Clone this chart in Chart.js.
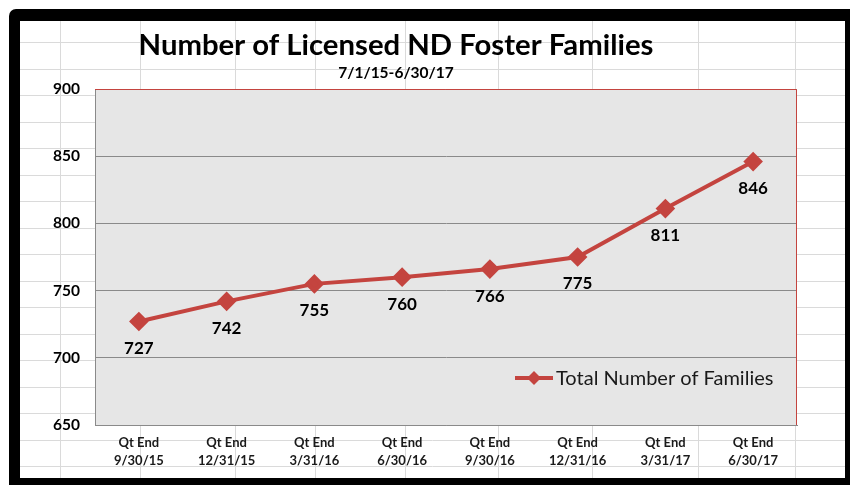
<!DOCTYPE html>
<html>
<head>
<meta charset="utf-8">
<title>Number of Licensed ND Foster Families</title>
<script src="https://cdn.jsdelivr.net/npm/chart.js@4.4.1/dist/chart.umd.min.js"></script>
<style>
  html, body { margin: 0; padding: 0; background: #fff; }
  #outer { position: absolute; left: 9px; top: 9px; width: 841px; height: 476px; background: #000; border-radius: 7px 0 0 0; }
  #frame { position: absolute; left: 20px; top: 21px; width: 825px; height: 457px; background: #fff; }
  canvas { display: block; }
</style>
</head>
<body>
<div id="outer"></div>
<div id="frame"><canvas id="fosterChart" width="825" height="457"></canvas></div>
<script>
// Datos del gráfico
const chartTitle = 'Number of Licensed ND Foster Families';
const chartSubtitle = '7/1/15-6/30/17';
const quarters = [
  ['Qt End', '9/30/15'],
  ['Qt End', '12/31/15'],
  ['Qt End', '3/31/16'],
  ['Qt End', '6/30/16'],
  ['Qt End', '9/30/16'],
  ['Qt End', '12/31/16'],
  ['Qt End', '3/31/17'],
  ['Qt End', '6/30/17']
];
const totalFamilies = [727, 742, 755, 760, 766, 775, 811, 846];
const yTicks = [650, 700, 750, 800, 850, 900];

const lineRed = '#c4443f';
const fontFam = 'Lato, "Open Sans", sans-serif';

// spreadsheet look behind the chart (cell lines)
const sheetCols = [40, 120, 215, 295, 385, 478, 572, 678, 775];
const sheetRowTop = 21, sheetRowH = 26.5;

const sheetPlugin = {
  id: 'sheet',
  beforeDraw(chart) {
    const { ctx, width, height, chartArea: a } = chart;
    ctx.save();
    ctx.fillStyle = '#fff';
    ctx.fillRect(0, 0, width, height);
    ctx.strokeStyle = '#dadada';
    ctx.lineWidth = 1;
    for (let y = sheetRowTop; y < height; y += sheetRowH) {
      ctx.beginPath();
      ctx.moveTo(0, Math.round(y) + 0.5);
      ctx.lineTo(width, Math.round(y) + 0.5);
      ctx.stroke();
    }
    sheetCols.forEach(x => {
      ctx.beginPath();
      ctx.moveTo(x + 0.5, 0);
      ctx.lineTo(x + 0.5, height);
      ctx.stroke();
    });
    // plot area fill
    ctx.fillStyle = '#e6e6e6';
    ctx.fillRect(a.left, a.top, a.right - a.left, a.bottom - a.top);
    ctx.restore();
  },
  afterDraw(chart) {
    const { ctx, chartArea: a } = chart;
    ctx.save();
    // red border top + right
    ctx.strokeStyle = lineRed;
    ctx.lineWidth = 1;
    ctx.beginPath();
    ctx.moveTo(a.left, a.top + 0.5);
    ctx.lineTo(a.right - 0.5, a.top + 0.5);
    ctx.lineTo(a.right - 0.5, a.bottom);
    ctx.stroke();

    // titles
    ctx.fillStyle = '#000';
    ctx.textAlign = 'center';
    ctx.textBaseline = 'middle';
    ctx.font = 'bold 29.3px ' + fontFam;
    ctx.fillText(chartTitle, 376, 25);
    ctx.font = 'bold 15.5px ' + fontFam;
    ctx.fillText(chartSubtitle, 376, 52);

    // value labels under points
    const meta = chart.getDatasetMeta(0);
    ctx.font = 'bold 17px ' + fontFam;
    meta.data.forEach((pt, i) => {
      ctx.fillText(chart.data.datasets[0].data[i], pt.x, pt.y + 27);
    });

    // legend inside plot area
    const ds = chart.data.datasets[0];
    const lx = 495, ly = 357;
    ctx.strokeStyle = lineRed;
    ctx.lineWidth = 4;
    ctx.beginPath();
    ctx.moveTo(lx, ly);
    ctx.lineTo(lx + 38, ly);
    ctx.stroke();
    ctx.fillStyle = lineRed;
    ctx.beginPath();
    ctx.moveTo(lx + 19, ly - 7);
    ctx.lineTo(lx + 26, ly);
    ctx.lineTo(lx + 19, ly + 7);
    ctx.lineTo(lx + 12, ly);
    ctx.closePath();
    ctx.fill();
    ctx.fillStyle = '#1a1a1a';
    ctx.textAlign = 'left';
    ctx.font = '20px ' + fontFam;
    ctx.fillText(ds.label, lx + 41, ly + 1);
    ctx.restore();
  }
};

new Chart(document.getElementById('fosterChart'), {
  type: 'line',
  data: {
    labels: quarters,
    datasets: [{
      label: 'Total Number of Families',
      data: totalFamilies,
      borderColor: lineRed,
      backgroundColor: lineRed,
      borderWidth: 4,
      tension: 0,
      pointStyle: 'rectRot',
      pointRadius: 7,
      pointHoverRadius: 7,
      pointBackgroundColor: lineRed,
      pointBorderColor: lineRed
    }]
  },
  options: {
    responsive: false,
    animation: false,
    events: [],
    layout: { padding: { left: 0, right: 48, top: 68, bottom: 0 } },
    plugins: {
      legend: { display: false },
      title: { display: false },
      tooltip: { enabled: false }
    },
    scales: {
      x: {
        offset: true,
        grid: { display: false, drawTicks: false },
        border: { color: '#8a8a8a', width: 1 },
        ticks: {
          color: '#1a1a1a',
          padding: 9,
          maxRotation: 0,
          font: { family: fontFam, size: 13, weight: 'bold', lineHeight: 1.35 }
        },
        afterFit(scale) { scale.height = 53; }
      },
      y: {
        min: yTicks[0],
        max: yTicks[yTicks.length - 1],
        afterBuildTicks(scale) { scale.ticks = yTicks.map(v => ({ value: v })); },
        grid: { color: '#8a8a8a', drawTicks: false },
        border: { color: '#8a8a8a', width: 1 },
        ticks: {
          color: '#000',
          padding: 15,
          font: { family: fontFam, size: 15.5, weight: 'bold' }
        },
        afterFit(scale) { scale.width = 75; }
      }
    }
  },
  plugins: [sheetPlugin]
});
</script>
</body>
</html>
